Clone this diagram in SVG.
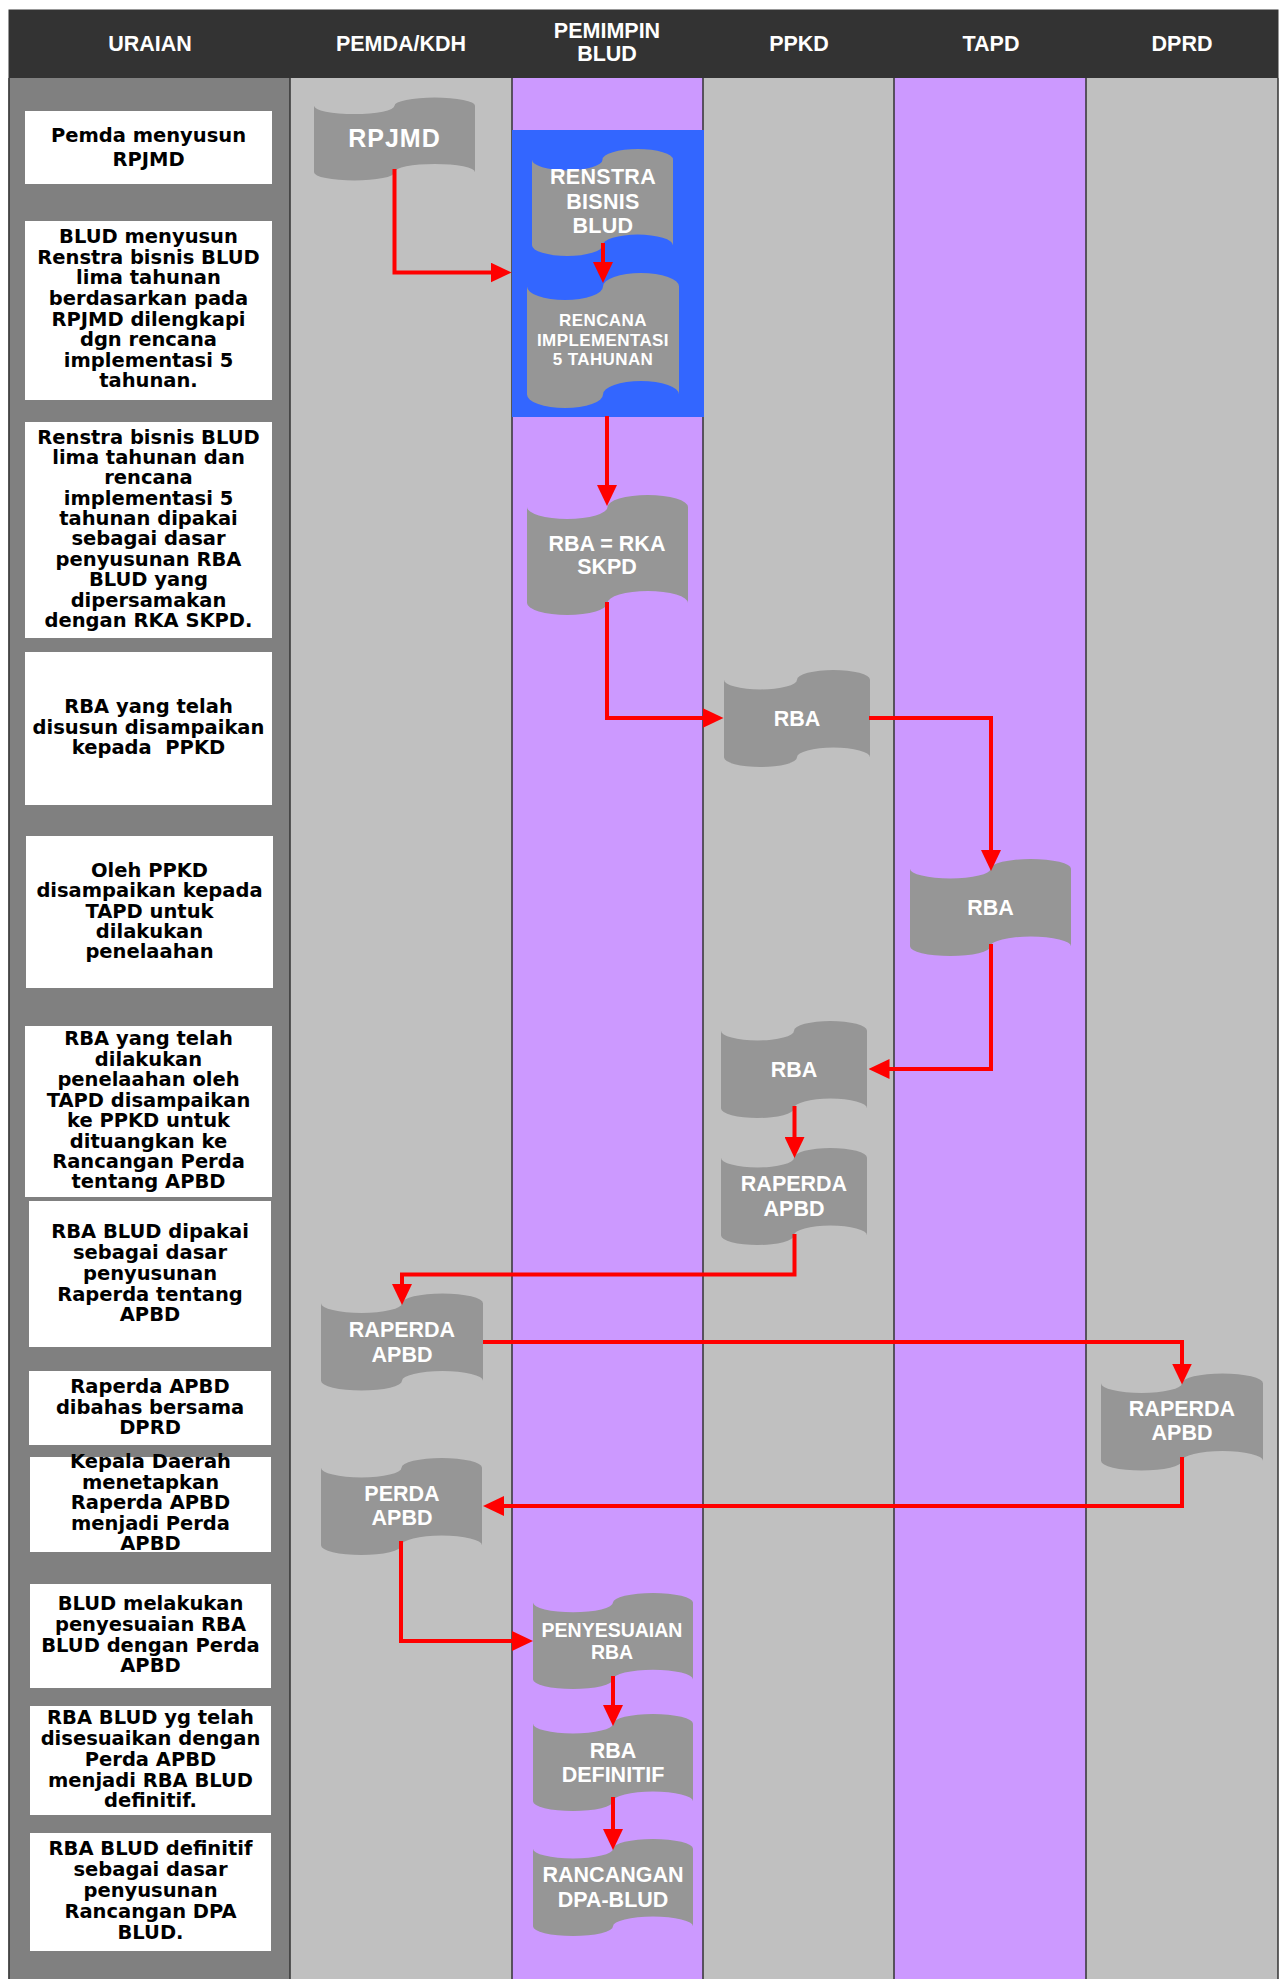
<svg xmlns="http://www.w3.org/2000/svg" xmlns:xlink="http://www.w3.org/1999/xlink" width="1283" height="1979" viewBox="0 0 1283 1979">
<style>
.hdr{font-family:"Liberation Sans",Arial,sans-serif;font-weight:bold;font-size:21.5px;fill:#ffffff;text-anchor:middle}
.desc{font-family:"DejaVu Sans",Verdana,sans-serif;font-weight:bold;font-size:19.5px;fill:#000000;text-anchor:middle;white-space:pre}
.box{fill:#ffffff}
.tape{fill:#969696}
.lbl{font-family:"Liberation Sans",Arial,sans-serif;font-weight:bold;font-size:21.5px;fill:#ffffff;text-anchor:middle}
.conn{fill:none;stroke:#ff0000;stroke-width:4;stroke-linejoin:miter}
.lane{stroke:#333333;stroke-width:1.5}
</style>
<defs>
<path id="tape" d="M0,10 A25,10 0 0 0 50,10 A25,10 0 0 1 100,10 L100,90 A25,10 0 0 0 50,90 A25,10 0 0 1 0,90 Z"/>
<marker id="arr" markerUnits="userSpaceOnUse" markerWidth="21" markerHeight="20" viewBox="0 0 21 20" refX="11" refY="10" orient="auto">
<path d="M0,0 L21,10 L0,20 Z" fill="#ff0000"/>
</marker>
</defs>
<rect width="1283" height="1979" fill="#ffffff"/>
<g id="lanes">
<rect x="8.5" y="78" width="281.5" height="1901" fill="#808080"/>
<rect x="290" y="78" width="222" height="1901" fill="#c0c0c0"/>
<rect x="512" y="78" width="191" height="1901" fill="#cc99ff"/>
<rect x="703" y="78" width="191" height="1901" fill="#c0c0c0"/>
<rect x="894" y="78" width="192" height="1901" fill="#cc99ff"/>
<rect x="1086" y="78" width="192" height="1901" fill="#c0c0c0"/>
<line class="lane" x1="9" y1="78" x2="9" y2="1979"/>
<line class="lane" x1="290" y1="78" x2="290" y2="1979"/>
<line class="lane" x1="512" y1="78" x2="512" y2="1979"/>
<line class="lane" x1="703" y1="78" x2="703" y2="1979"/>
<line class="lane" x1="894" y1="78" x2="894" y2="1979"/>
<line class="lane" x1="1086" y1="78" x2="1086" y2="1979"/>
<line class="lane" x1="1278" y1="78" x2="1278" y2="1979"/>
</g>
<g id="header">
<rect x="8.5" y="9.5" width="1270" height="68.5" fill="#333333"/>
<text class="hdr" x="150" y="51">URAIAN</text>
<text class="hdr" x="401" y="51">PEMDA/KDH</text>
<text class="hdr" x="607" y="38">PEMIMPIN</text>
<text class="hdr" x="607" y="61">BLUD</text>
<text class="hdr" x="799" y="51">PPKD</text>
<text class="hdr" x="991" y="51">TAPD</text>
<text class="hdr" x="1182" y="51">DPRD</text>
</g>
<rect id="blud-block" x="512" y="130" width="192" height="287" fill="#3366ff"/>
<g id="desc1"><rect class="box" x="25" y="111" width="247" height="73"/>
<text class="desc" x="148.5" y="142">Pemda menyusun</text><text class="desc" x="148.5" y="166">RPJMD</text></g>
<g id="desc2"><rect class="box" x="25" y="221" width="247" height="179"/>
<text class="desc" x="148.5" y="243">BLUD menyusun</text><text class="desc" x="148.5" y="264">Renstra bisnis BLUD</text><text class="desc" x="148.5" y="284">lima tahunan</text><text class="desc" x="148.5" y="305">berdasarkan pada</text><text class="desc" x="148.5" y="326">RPJMD dilengkapi</text><text class="desc" x="148.5" y="346">dgn rencana</text><text class="desc" x="148.5" y="367">implementasi 5</text><text class="desc" x="148.5" y="387">tahunan.</text></g>
<g id="desc3"><rect class="box" x="25" y="422" width="247" height="216"/>
<text class="desc" x="148.5" y="443.5">Renstra bisnis BLUD</text><text class="desc" x="148.5" y="464">lima tahunan dan</text><text class="desc" x="148.5" y="484">rencana</text><text class="desc" x="148.5" y="504.5">implementasi 5</text><text class="desc" x="148.5" y="525">tahunan dipakai</text><text class="desc" x="148.5" y="545">sebagai dasar</text><text class="desc" x="148.5" y="565.5">penyusunan RBA</text><text class="desc" x="148.5" y="586">BLUD yang</text><text class="desc" x="148.5" y="606.5">dipersamakan</text><text class="desc" x="148.5" y="627">dengan RKA SKPD.</text></g>
<g id="desc4"><rect class="box" x="25" y="652" width="247" height="153"/>
<text class="desc" x="148.5" y="713">RBA yang telah</text><text class="desc" x="148.5" y="733.5">disusun disampaikan</text><text class="desc" x="148.5" y="754">kepada  PPKD</text></g>
<g id="desc5"><rect class="box" x="26" y="836" width="247" height="152"/>
<text class="desc" x="149.5" y="877">Oleh PPKD</text><text class="desc" x="149.5" y="897">disampaikan kepada</text><text class="desc" x="149.5" y="917.5">TAPD untuk</text><text class="desc" x="149.5" y="937.5">dilakukan</text><text class="desc" x="149.5" y="958">penelaahan</text></g>
<g id="desc6"><rect class="box" x="25" y="1026" width="247" height="171"/>
<text class="desc" x="148.5" y="1045">RBA yang telah</text><text class="desc" x="148.5" y="1065.5">dilakukan</text><text class="desc" x="148.5" y="1086">penelaahan oleh</text><text class="desc" x="148.5" y="1106.5">TAPD disampaikan</text><text class="desc" x="148.5" y="1127">ke PPKD untuk</text><text class="desc" x="148.5" y="1147.5">dituangkan ke</text><text class="desc" x="148.5" y="1168">Rancangan Perda</text><text class="desc" x="148.5" y="1188">tentang APBD</text></g>
<g id="desc7"><rect class="box" x="29" y="1201" width="242" height="146"/>
<text class="desc" x="150" y="1238">RBA BLUD dipakai</text><text class="desc" x="150" y="1259">sebagai dasar</text><text class="desc" x="150" y="1280">penyusunan</text><text class="desc" x="150" y="1300.5">Raperda tentang</text><text class="desc" x="150" y="1321">APBD</text></g>
<g id="desc8"><rect class="box" x="29" y="1371" width="242" height="74"/>
<text class="desc" x="150" y="1393">Raperda APBD</text><text class="desc" x="150" y="1413.5">dibahas bersama</text><text class="desc" x="150" y="1434">DPRD</text></g>
<g id="desc9"><rect class="box" x="30" y="1457" width="241" height="95"/>
<text class="desc" x="150.5" y="1468">Kepala Daerah</text><text class="desc" x="150.5" y="1489">menetapkan</text><text class="desc" x="150.5" y="1509">Raperda APBD</text><text class="desc" x="150.5" y="1530">menjadi Perda</text><text class="desc" x="150.5" y="1550">APBD</text></g>
<g id="desc10"><rect class="box" x="30" y="1584" width="241" height="104"/>
<text class="desc" x="150.5" y="1610">BLUD melakukan</text><text class="desc" x="150.5" y="1631">penyesuaian RBA</text><text class="desc" x="150.5" y="1652">BLUD dengan Perda</text><text class="desc" x="150.5" y="1672">APBD</text></g>
<g id="desc11"><rect class="box" x="30" y="1706" width="241" height="109"/>
<text class="desc" x="150.5" y="1724">RBA BLUD yg telah</text><text class="desc" x="150.5" y="1745">disesuaikan dengan</text><text class="desc" x="150.5" y="1766">Perda APBD</text><text class="desc" x="150.5" y="1787">menjadi RBA BLUD</text><text class="desc" x="150.5" y="1807">definitif.</text></g>
<g id="desc12"><rect class="box" x="30" y="1833" width="241" height="118"/>
<text class="desc" x="150.5" y="1855">RBA BLUD definitif</text><text class="desc" x="150.5" y="1876">sebagai dasar</text><text class="desc" x="150.5" y="1897">penyusunan</text><text class="desc" x="150.5" y="1918">Rancangan DPA</text><text class="desc" x="150.5" y="1939">BLUD.</text></g>
<g id="n-rpjmd"><use xlink:href="#tape" class="tape" transform="translate(314,97.5) scale(1.61,0.83)"/>
<text class="lbl" x="394.5" y="147" style="font-size:25px;letter-spacing:1px">RPJMD</text></g>
<g id="n-renstra"><use xlink:href="#tape" class="tape" transform="translate(532,149) scale(1.41,1.07)"/>
<text class="lbl" x="603" y="184" style="font-size:21.5px;letter-spacing:0.3px">RENSTRA</text><text class="lbl" x="603" y="208.5" style="font-size:21.5px;letter-spacing:0.3px">BISNIS</text><text class="lbl" x="603" y="232.5" style="font-size:21.5px;letter-spacing:0.3px">BLUD</text></g>
<g id="n-rencana"><use xlink:href="#tape" class="tape" transform="translate(527,273) scale(1.52,1.35)"/>
<text class="lbl" x="603" y="326" style="font-size:17px;letter-spacing:0.4px">RENCANA</text><text class="lbl" x="603" y="346" style="font-size:17px;letter-spacing:0.4px">IMPLEMENTASI</text><text class="lbl" x="603" y="365" style="font-size:17px;letter-spacing:0.4px">5 TAHUNAN</text></g>
<g id="n-rba-rka"><use xlink:href="#tape" class="tape" transform="translate(527,495) scale(1.61,1.2)"/>
<text class="lbl" x="607" y="550.5">RBA = RKA</text><text class="lbl" x="607" y="573.5">SKPD</text></g>
<g id="n-rba-ppkd1"><use xlink:href="#tape" class="tape" transform="translate(724,670) scale(1.46,0.97)"/>
<text class="lbl" x="797" y="725.5">RBA</text></g>
<g id="n-rba-tapd"><use xlink:href="#tape" class="tape" transform="translate(910,859) scale(1.61,0.97)"/>
<text class="lbl" x="990.5" y="914.5">RBA</text></g>
<g id="n-rba-ppkd2"><use xlink:href="#tape" class="tape" transform="translate(721,1021) scale(1.46,0.97)"/>
<text class="lbl" x="794" y="1076.5">RBA</text></g>
<g id="n-raperda-ppkd"><use xlink:href="#tape" class="tape" transform="translate(721,1148) scale(1.46,0.97)"/>
<text class="lbl" x="794" y="1190.5">RAPERDA</text><text class="lbl" x="794" y="1215.5">APBD</text></g>
<g id="n-raperda-pemda"><use xlink:href="#tape" class="tape" transform="translate(321,1293.5) scale(1.62,0.97)"/>
<text class="lbl" x="402" y="1336.5">RAPERDA</text><text class="lbl" x="402" y="1361.5">APBD</text></g>
<g id="n-raperda-dprd"><use xlink:href="#tape" class="tape" transform="translate(1101,1373.5) scale(1.62,0.97)"/>
<text class="lbl" x="1182" y="1415.5">RAPERDA</text><text class="lbl" x="1182" y="1439.5">APBD</text></g>
<g id="n-perda"><use xlink:href="#tape" class="tape" transform="translate(321,1458) scale(1.61,0.97)"/>
<text class="lbl" x="402" y="1500.5">PERDA</text><text class="lbl" x="402" y="1524.5">APBD</text></g>
<g id="n-penyesuaian"><use xlink:href="#tape" class="tape" transform="translate(533,1593) scale(1.6,0.96)"/>
<text class="lbl" x="612" y="1637" style="font-size:19.5px">PENYESUAIAN</text><text class="lbl" x="612" y="1659" style="font-size:19.5px">RBA</text></g>
<g id="n-definitif"><use xlink:href="#tape" class="tape" transform="translate(533,1714) scale(1.6,0.97)"/>
<text class="lbl" x="613" y="1757.5">RBA</text><text class="lbl" x="613" y="1781.5">DEFINITIF</text></g>
<g id="n-dpa"><use xlink:href="#tape" class="tape" transform="translate(533,1839) scale(1.6,0.97)"/>
<text class="lbl" x="613" y="1881.5">RANCANGAN</text><text class="lbl" x="613" y="1906.5">DPA-BLUD</text></g>
<g id="connectors">
<path class="conn" marker-end="url(#arr)" d="M394.5,169 V272.5 H501.5"/>
<path class="conn" marker-end="url(#arr)" d="M603,243 V273"/>
<path class="conn" marker-end="url(#arr)" d="M607,416 V496"/>
<path class="conn" marker-end="url(#arr)" d="M607,602 V718 H713.5"/>
<path class="conn" marker-end="url(#arr)" d="M869,718 H991 V861"/>
<path class="conn" marker-end="url(#arr)" d="M991,944 V1069 H878.5"/>
<path class="conn" marker-end="url(#arr)" d="M794.5,1106 V1148"/>
<path class="conn" marker-end="url(#arr)" d="M794.5,1234 V1274.5 H402 V1295"/>
<path class="conn" marker-end="url(#arr)" d="M483,1342 H1182 V1374.5"/>
<path class="conn" marker-end="url(#arr)" d="M1182,1457 V1506 H493"/>
<path class="conn" marker-end="url(#arr)" d="M401,1541 V1641 H523"/>
<path class="conn" marker-end="url(#arr)" d="M613,1676 V1716"/>
<path class="conn" marker-end="url(#arr)" d="M613,1797 V1840"/>
</g>
</svg>
